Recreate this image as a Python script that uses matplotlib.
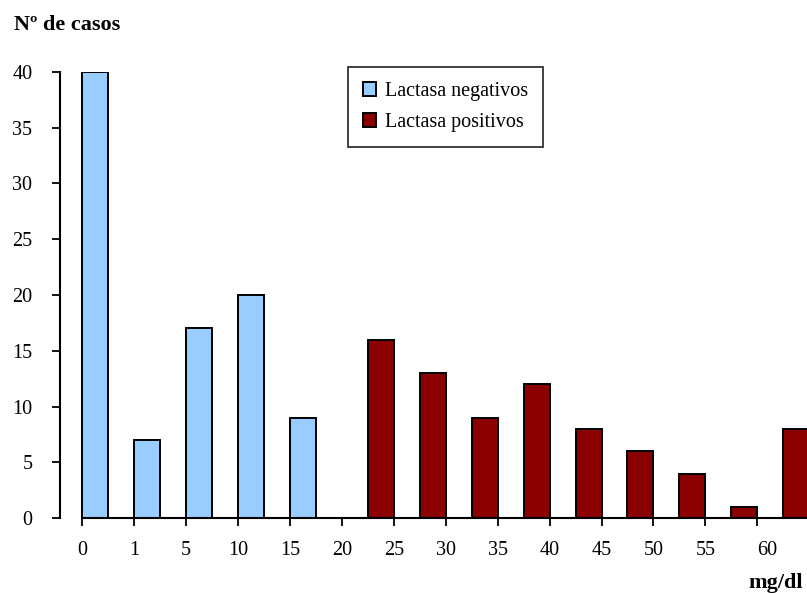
import matplotlib
matplotlib.use("Agg")
import matplotlib.pyplot as plt
from matplotlib.patches import Patch
from matplotlib.transforms import ScaledTranslation

plt.rcParams['font.family'] = ['Liberation Serif', 'DejaVu Serif']

# Bin boundary labels (mg/dl)
bin_labels = ["0", "1", "5", "10", "15", "20", "25", "30", "35", "40", "45", "50", "55", "60"]
# Number of cases per bin
negativos = [40, 7, 17, 20, 9, 0, 0, 0, 0, 0, 0, 0, 0, 0]
positivos = [0, 0, 0, 0, 0, 16, 13, 9, 12, 8, 6, 4, 1, 8]

azul = "#99CCFF"
rojo = "#8B0000"
FS = 14.5
FS_BOLD = 16

fig = plt.figure(figsize=(8.07, 5.93), dpi=100)
W, H = 807, 593
left_px, right_px = 59.5, 807
bottom_px, top_px = 518.3, 71.7
ax = fig.add_axes([left_px / W, 1 - bottom_px / H,
                   (right_px - left_px) / W, (bottom_px - top_px) / H])

pos = list(range(len(bin_labels)))
ax.bar(pos, negativos, width=0.5, align='edge', color=azul,
       edgecolor='black', linewidth=1.4)
ax.bar([p + 0.5 for p in pos], positivos, width=0.5, align='edge', color=rojo,
       edgecolor='black', linewidth=1.4)

step = 51.95
x0 = 82.0
xmax = (right_px - x0) / step
ax.set_xlim((left_px - x0) / step, xmax)
ax.set_ylim(0, 40)

ax.set_xticks(pos)
ax.set_xticklabels(bin_labels, fontsize=FS)
ax.set_yticks(range(0, 41, 5))
ax.tick_params(axis='y', labelsize=FS, direction='out', length=6, width=1.3, pad=13.5)
ax.tick_params(axis='x', direction='out', length=6, width=1.3, pad=10)

# last label sits a little right of its tick
last = ax.get_xticklabels()[-1]
last.set_transform(last.get_transform() + ScaledTranslation(10 / 100, 0, fig.dpi_scale_trans))

for s in ['top', 'right']:
    ax.spines[s].set_visible(False)
for s in ['left', 'bottom']:
    ax.spines[s].set_linewidth(1.5)
ax.spines['bottom'].set_bounds(0, xmax)

fig.text(14 / W, 1 - 25 / H, "Nº de casos", fontsize=FS_BOLD, fontweight='bold',
         ha='left', va='center')
fig.text(803 / W, 1 - 583 / H, "mg/dl", fontsize=FS_BOLD, fontweight='bold',
         ha='right', va='center')

handles = [Patch(facecolor=azul, edgecolor='black', linewidth=1.4),
           Patch(facecolor=rojo, edgecolor='black', linewidth=1.4)]
leg = ax.legend(handles, ["Lactasa negativos", "Lactasa positivos"],
                loc='upper left', bbox_to_anchor=((348 - left_px) / (right_px - left_px),
                                                  (bottom_px - 67) / (bottom_px - top_px)),
                fontsize=FS, frameon=True, fancybox=False, handlelength=0.65,
                handleheight=0.65, handletextpad=0.45, labelspacing=0.6,
                borderpad=0.75, borderaxespad=0)
leg.get_frame().set_edgecolor('black')
leg.get_frame().set_linewidth(1.3)

fig.savefig("out.png", dpi=100)
